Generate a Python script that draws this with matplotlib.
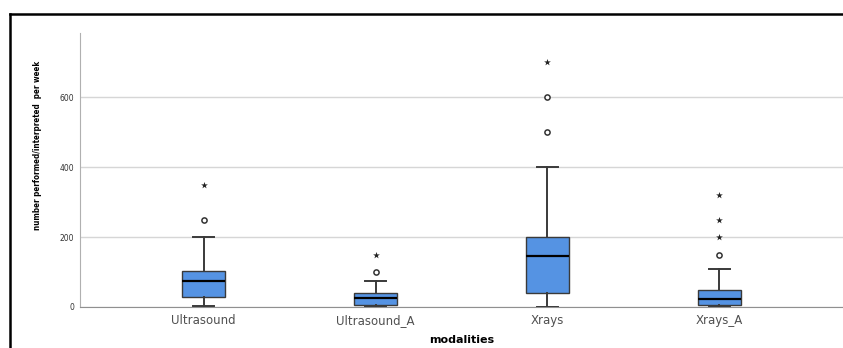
import matplotlib
matplotlib.use("Agg")
import matplotlib.pyplot as plt
from matplotlib.lines import Line2D

# box statistics
modalities = ["Ultrasound", "Ultrasound_A", "Xrays", "Xrays_A"]
whis_lo = [2, 1, 0, 1]
q1 = [29, 5, 40, 5]
medians = [74, 25, 145, 22]
q3 = [102, 40, 200, 50]
whis_hi = [200, 75, 400, 110]

# outliers (circles) and extremes (stars)
circles = [[250], [100], [500, 600], [150]]
stars = [[350], [150], [700], [200, 250, 320]]

box_color = "#5593e3"
line_color = "#3a3a3a"

fig = plt.figure(figsize=(8.43, 3.48), dpi=100)
ax = fig.add_axes([80 / 843, 41 / 348, 763 / 843, 274 / 348])

stats = []
for i, name in enumerate(modalities):
    stats.append({"label": name, "whislo": whis_lo[i], "q1": q1[i], "med": medians[i],
                  "q3": q3[i], "whishi": whis_hi[i], "fliers": []})

pos = list(range(len(modalities)))
ax.bxp(stats, positions=pos, widths=0.25, capwidths=0.125, patch_artist=True,
       showfliers=False,
       boxprops=dict(facecolor=box_color, edgecolor=line_color, linewidth=1.0),
       medianprops=dict(color="black", linewidth=1.6),
       whiskerprops=dict(color=line_color, linewidth=1.4),
       capprops=dict(color=line_color, linewidth=1.4),
       zorder=3)

for i in pos:
    ax.scatter([i] * len(circles[i]), circles[i], marker="o", s=14,
               facecolor="white", edgecolor="#333333", linewidth=1.1, zorder=4)
    ax.scatter([i] * len(stars[i]), stars[i], marker="*", s=26,
               color="#222222", linewidth=0, zorder=4)

ax.set_xlim(-0.72, 3.72)
ax.set_ylim(0, 783)
ax.set_yticks([0, 200, 400, 600])
ax.yaxis.grid(True, color="#d6d6d6", linewidth=1.0, zorder=0)
ax.set_axisbelow(True)
for s in ["top", "right"]:
    ax.spines[s].set_visible(False)
ax.spines["left"].set_color("#b0b0b0")
ax.spines["bottom"].set_color("#909090")
ax.tick_params(axis="both", length=0)
ax.tick_params(axis="y", labelsize=5.5, pad=4, labelcolor="#333333")
ax.tick_params(axis="x", labelsize=8.5, pad=5, labelcolor="#505050")

ax.set_xlabel("modalities", fontsize=8, fontweight="bold", labelpad=6)
ax.set_ylabel("number performed/interpreted  per week", fontsize=5.8,
              family="DejaVu Sans", fontstretch="condensed", fontweight="bold")
ax.yaxis.set_label_coords(-0.05, 0.59)

# black frame around the chart (top and left edges visible)
fig.add_artist(Line2D([10 / 843, 1.0], [1 - 14 / 348, 1 - 14 / 348],
                      transform=fig.transFigure, color="black", linewidth=1.8))
fig.add_artist(Line2D([10 / 843, 10 / 843], [0, 1 - 14 / 348],
                      transform=fig.transFigure, color="black", linewidth=1.8))

fig.savefig("out.png", dpi=100)
